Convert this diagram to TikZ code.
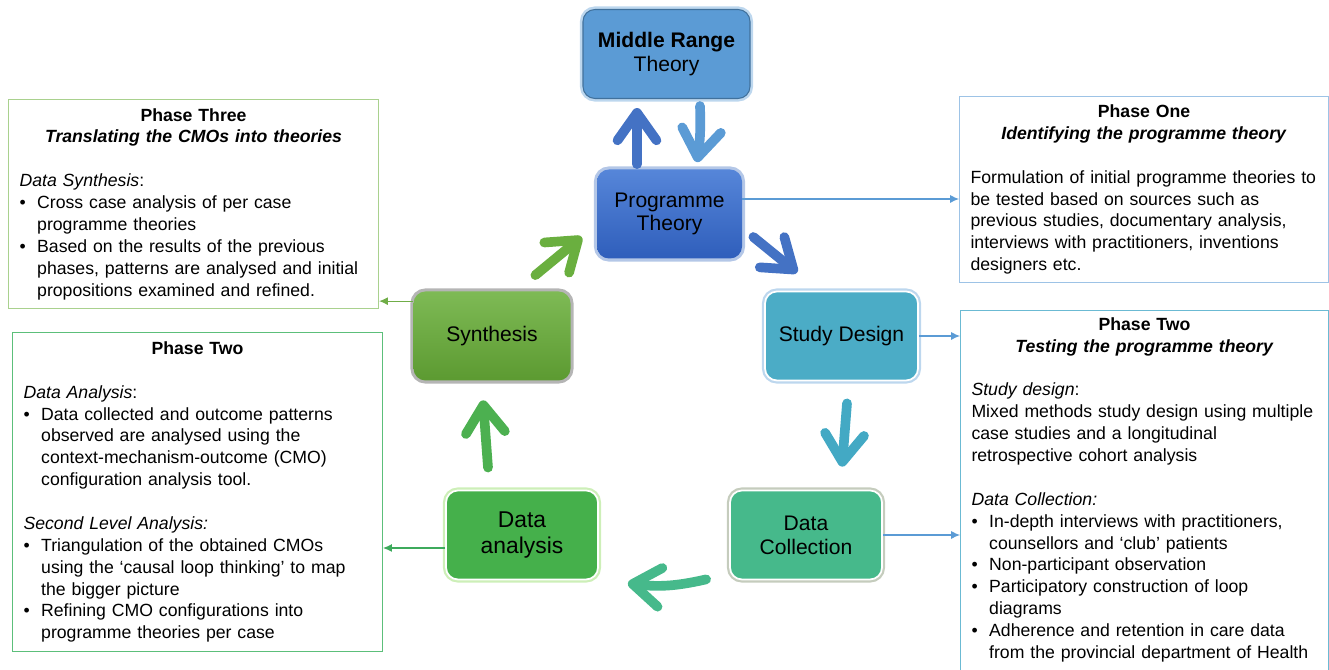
\documentclass[tikz,border=0pt]{standalone}
\usepackage{fontspec}
\setmainfont{Liberation Sans}
\usetikzlibrary{arrows,arrows.meta}

\definecolor{mrtfill}{HTML}{5B9BD5}
\definecolor{mrtline}{HTML}{41719C}
\definecolor{mrtglow}{HTML}{BDD7EE}
\definecolor{progtop}{HTML}{5686D9}
\definecolor{progbot}{HTML}{2F5EBB}
\definecolor{progglow}{HTML}{B4C7E7}
\definecolor{designfill}{HTML}{4BACC6}
\definecolor{designglow}{HTML}{BDD7EE}
\definecolor{collectfill}{HTML}{46B98B}
\definecolor{collectglow}{HTML}{C5CCBD}
\definecolor{analysisfill}{HTML}{45B04B}
\definecolor{analysisglow}{HTML}{CDEFB8}
\definecolor{synthtop}{HTML}{7EBA55}
\definecolor{synthbot}{HTML}{5C9A31}
\definecolor{synthglow}{HTML}{B5B5B5}
\definecolor{arrblue}{HTML}{4472C4}
\definecolor{arrlight}{HTML}{5B9BD5}
\definecolor{arrteal}{HTML}{43A9C4}
\definecolor{arrsea}{HTML}{46B98B}
\definecolor{arrgreen}{HTML}{4CB050}
\definecolor{arrlime}{HTML}{6AAF3F}
\definecolor{linkblue}{HTML}{5B9BD5}
\definecolor{linklime}{HTML}{70AD47}
\definecolor{linkgreen}{HTML}{3DAA5C}
\definecolor{p3line}{HTML}{A9D18E}
\definecolor{p2lline}{HTML}{5CBF7A}
\definecolor{p1line}{HTML}{9DC3E6}
\definecolor{p2rline}{HTML}{6BBAD3}

\newcommand{\bul}{\par\noindent\hangindent=1em\hangafter=1\makebox[1em][l]{\textbullet}}

\begin{document}
\begin{tikzpicture}[
			stage/.style={rounded corners=0.24cm, minimum height=1.78cm, align=center,
			inner sep=2pt, font=\fontsize{12}{13.5}\selectfont},
			glow/.style={preaction={draw=#1, line width=3.5pt}},
			phase/.style={draw, line width=0.6pt, anchor=north west, text width=6.96cm,
			inner xsep=0.22cm, inner ysep=0.14cm, font=\fontsize{10.05}{12.45}\selectfont},
			bigarrow/.style={line width=5.5pt, line cap=round,
			-{Straight Barb[length=0.55cm, width=0.78cm, round]}},
			link/.style={draw=#1, line width=0.6pt, -{Latex[length=5pt, width=4.5pt]}}
			]
			\useasboundingbox (0,0) rectangle (26.58,13.4);
			% cycle
			\node[stage, glow=mrtglow, draw=mrtline, line width=0.6pt, fill=mrtfill,
				minimum width=3.34cm] (mrt) at (13.33,12.32) {{\bfseries Middle Range}\\Theory};
			\node[stage, glow=progglow, top color=progtop, bottom color=progbot,
				minimum width=2.90cm] (prog) at (13.39,9.12) {Programme\\Theory};
			\node[stage, glow=designglow, draw=white, line width=1pt, fill=designfill,
				minimum width=3.06cm] (design) at (16.83,6.68) {Study Design};
			\node[stage, glow=collectglow, draw=white, line width=1pt, fill=collectfill,
				minimum width=3.04cm] (collect) at (16.12,2.70) {Data\\Collection};
			\node[stage, glow=analysisglow, draw=white, line width=1pt, fill=analysisfill,
				minimum width=3.04cm, font=\fontsize{13}{14.5}\selectfont] (analysis) at (10.44,2.70) {Data\\analysis};
			\node[stage, glow=synthglow, top color=synthtop, bottom color=synthbot,
				minimum width=3.14cm] (synth) at (9.84,6.68) {Synthesis};

			\draw[bigarrow, draw=arrblue] ([shift={(-0.65,0.1)}]prog.north) -- ([shift={(-0.59,-0.18)}]mrt.south);
			\draw[bigarrow, draw=arrlight] ([shift={(0.67,-0.14)}]mrt.south) to[bend left=5] ([shift={(0.55,0.14)}]prog.north);
			\draw[bigarrow, draw=arrblue] ([shift={(0.22,-0.46)}]prog.east) -- ([shift={(0.66,0.36)}]design.north west);
			\draw[bigarrow, draw=arrteal] ([shift={(0.11,-0.44)}]design.south) -- ([shift={(0.72,0.46)}]collect.north);
			\draw[bigarrow, draw=arrsea] ([shift={(-0.46,0.02)}]collect.south west) to[bend left=10] ([shift={(0.58,-0.06)}]analysis.south east);
			\draw[bigarrow, draw=arrgreen] ([shift={(-0.68,0.44)}]analysis.north) -- ([shift={(-0.18,-0.39)}]synth.south);
			\draw[bigarrow, draw=arrlime] ([shift={(-0.71,0.32)}]synth.north east) -- ([shift={(-0.30,-0.46)}]prog.west);

			% phases
			\node[phase, draw=p3line, minimum height=4.18cm] (p3) at (0.16,11.42) {%
				{\centering\textbf{Phase Three}\\\textbf{\textit{Translating the CMOs into theories}}\par}
				\raggedright\vspace{\baselineskip}
				\textit{Data Synthesis}:
				\bul Cross case analysis of per case\newline programme theories
				\bul Based on the results of the previous\newline phases, patterns are analysed and initial\newline propositions examined and refined.\par};
			\node[phase, draw=p2lline, minimum height=6.38cm] (p2l) at (0.24,6.76) {%
				{\centering\textbf{Phase Two}\par}
				\raggedright\vspace{\baselineskip}
				\textit{Data Analysis}:
				\bul Data collected and outcome patterns\newline observed are analysed using the\newline context-mechanism-outcome (CMO)\newline configuration analysis tool.\par
				\vspace{\baselineskip}
				\textit{Second Level Analysis:}
				\bul Triangulation of the obtained CMOs\newline using the ‘causal loop thinking’ to map\newline the bigger picture
				\bul Refining CMO configurations into\newline programme theories per case\par};
			\node[phase, draw=p1line, text width=6.94cm, minimum height=3.72cm] (p1) at (19.18,11.48) {%
				{\centering\textbf{Phase One}\\\textbf{\textit{Identifying the programme theory}}\par}
				\raggedright\vspace{\baselineskip}
				Formulation of initial programme theories to\\be tested based on sources such as\\previous studies, documentary analysis,\\interviews with practitioners, inventions\\designers etc.};
			\node[phase, draw=p2rline, text width=6.92cm] (p2r) at (19.20,7.20) {%
				{\centering\textbf{Phase Two}\\\textbf{\textit{Testing the programme theory}}\par}
				\raggedright\vspace{\baselineskip}
				\textit{Study design}:\\Mixed methods study design using multiple\\case studies and a longitudinal\\retrospective cohort analysis\par
				\vspace{\baselineskip}
				\textit{Data Collection:}
				\bul In-depth interviews with practitioners,\newline counsellors and ‘club’ patients
				\bul Non-participant observation
				\bul Participatory construction of loop\newline diagrams
				\bul Adherence and retention in care data\newline from the provincial department of Health\par
				\vspace{0.4cm}\mbox{}};

			\draw[link=linkblue] ([yshift=3mm]prog.east) -- ([yshift=3mm]prog.east -| p1.west);
			\draw[link=linkblue] (design.east) -- (design.east -| p2r.west);
			\draw[link=linkblue] (collect.east) -- (collect.east -| p2r.west);
			\draw[link=linklime] ([yshift=-2mm]synth.north west) -- ([yshift=-2mm]synth.north west -| p3.east);
			\draw[link=linkgreen] ([yshift=-2.6mm]analysis.west) -- ([yshift=-2.6mm]analysis.west -| p2l.east);
		\end{tikzpicture}
\end{document}
